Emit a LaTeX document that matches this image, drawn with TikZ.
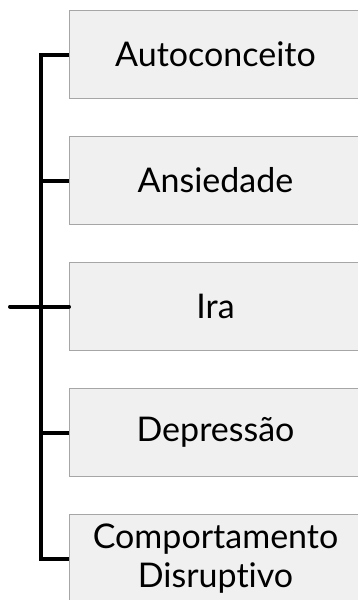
\documentclass[tikz,border=0pt]{standalone}
\usepackage{fontspec}
\setmainfont{Lato}[Ligatures={NoCommon,NoContextual}]
\usetikzlibrary{positioning, calc}
\definecolor{boxgray}{HTML}{f0f0f0}
\definecolor{edgegray}{HTML}{a6a6a6}

\begin{document}
\begin{tikzpicture}[x=1pt, y=-1pt,
            item/.style={draw=edgegray, fill=boxgray, line width=1pt,
                         minimum width=292pt, minimum height=88pt, inner sep=0pt,
                         align=center, font=\fontsize{34}{39}\selectfont},
            link/.style={line width=4pt}
            ]
        \useasboundingbox (0,0) rectangle (357,600);

        \node[item, anchor=north west] (auto) at (69,10) {Autoconceito};
        \node[item, below=37pt of auto] (ans) {Ansiedade};
        \node[item, below=37pt of ans] (ira) {Ira};
        \node[item, below=37pt of ira] (dep) {Depressão};
        \node[item, below=37pt of dep] (comp) {Comportamento\\Disruptivo};

        \path coordinate (root) at ($(ira.west)+(-59,0)$)
              coordinate (spine) at ($(ira.west)+(-28,0)$);

        \draw[link] (auto.west) -| (spine) |- (comp.west);
        \draw[link] (ans.west) -- (ans.west -| spine);
        \draw[link] (dep.west) -- (dep.west -| spine);
        \draw[link, line cap=round] (root) -- (ira.west);
    \end{tikzpicture}
\end{document}
